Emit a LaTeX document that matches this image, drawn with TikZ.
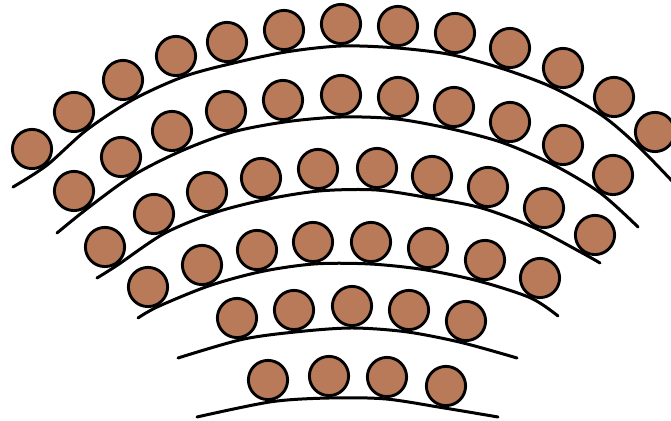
\documentclass[tikz,border=0pt]{standalone}
\usepackage{xcolor}
\usepackage{tikz}
\usetikzlibrary{calc}
\definecolor{seatbrown}{RGB}{184,122,88}
\def\seatR{9.8pt}
\def\seatGap{11pt}
\newcommand{\seatrow}[3]{%
% #1 = row name, #2 = seat centres x/y, #3 = centre of the row curve
\coordinate (#1o) at #3;
\foreach \x/\y [count=\i] in {#2} {
  \coordinate (#1s\i) at (\x,\y);
  \coordinate (#1b\i) at ($(#1s\i)!\seatGap!(#1o)$);
}
}
\newcommand{\seats}[2]{%
% #1 = row name, #2 = number of seats
\foreach \i in {1,...,#2}
  \draw[seat] (#1s\i) circle[radius=\seatR];
}
\begin{document}
\begin{tikzpicture}[
    x=0.5pt, y=-0.5pt,
    rowline/.style={line width=1.5pt, line cap=round},
    seat/.style={draw=black, line width=1.45pt, fill=seatbrown}
]
\useasboundingbox (0,0) rectangle (671,421);
\clip (0,0) rectangle (671,421);

% back row
\seatrow{a}{32/149, 74/112, 123/80, 176/56, 227/42, 284/30, 341/24,
  398/26, 455/33, 510/48, 563/68, 614/97, 655/132}{(345,504)}
\draw[rowline] plot[smooth] coordinates {(13,187) (ab1) (ab2) (ab3) (ab4)
  (ab5) (ab6) (ab7) (ab8) (ab9) (ab10) (ab11) (ab12) (ab13) (688,198)};
\seats{a}{13}

\seatrow{b}{74/191, 121/157, 172/131, 226/111, 283/100, 341/95, 398/97,
  454/107, 510/122, 563/145, 613/175}{(345,532)}
\draw[rowline] plot[smooth] coordinates {(57,233) (bb1) (bb2) (bb3) (bb4)
  (bb5) (bb6) (bb7) (bb8) (bb9) (bb10) (bb11) (638,227)};
\seats{b}{11}

\seatrow{c}{105/247, 154/214, 207/192, 261/178, 318/169, 377/168,
  432/176, 488/187, 544/208, 595/235}{(348,598)}
\draw[rowline] plot[smooth] coordinates {(97,278) (cb1) (cb2) (cb3) (cb4)
  (cb5) (cb6) (cb7) (cb8) (cb9) (cb10) (600,263)};
\seats{c}{10}

\seatrow{d}{148/287, 202/265, 257/250, 313/242, 371/242, 428/248,
  485/260, 540/278}{(348,684)}
\draw[rowline] plot[smooth] coordinates {(138,318) (db1) (db2) (db3) (db4)
  (db5) (db6) (db7) (db8) (558,316)};
\seats{d}{8}

\seatrow{e}{237/318, 294/310, 352/306, 409/310, 466/321}{(347,809)}
\draw[rowline] plot[smooth] coordinates {(178,358) (eb1) (eb2) (eb3) (eb4)
  (eb5) (517,358)};
\seats{e}{5}

% front row
\seatrow{f}{268/380, 329/376, 387/377, 446/386}{(348,917)}
\draw[rowline] plot[smooth] coordinates {(197,417) (fb1) (fb2) (fb3) (fb4)
  (498,417)};
\seats{f}{4}
\end{tikzpicture}
\end{document}
